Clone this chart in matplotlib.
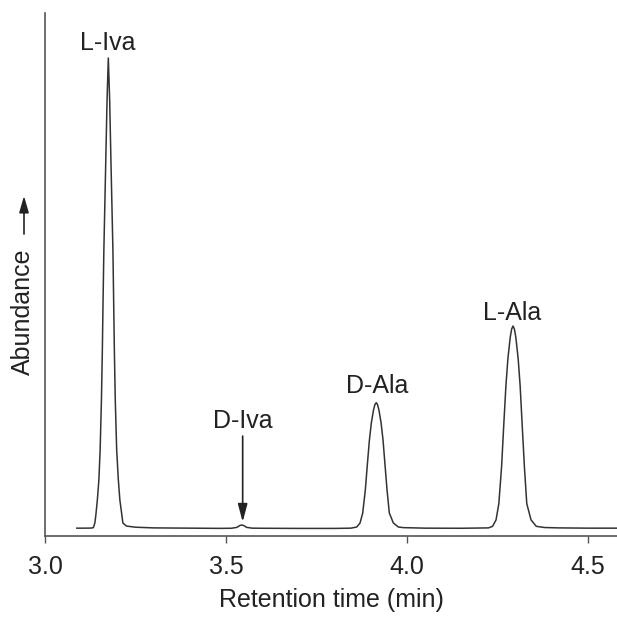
import matplotlib
matplotlib.use("Agg")
import matplotlib.pyplot as plt
import numpy as np

plt.rcParams['font.family'] = ['Liberation Sans', 'DejaVu Sans']

# ---- data (retention time in min, abundance in relative units) ----
seg_start_t = [3.088, 3.110, 3.128]
seg_start_a = [0.0150, 0.0150, 0.0152]

l_iva_t = [3.1336, 3.1377, 3.1405, 3.1446, 3.1488, 3.1523, 3.1559, 3.1584, 3.1604,
           3.1626, 3.1675, 3.1714, 3.1749, 3.1786, 3.1825, 3.1876, 3.1896, 3.1916,
           3.1941, 3.1980, 3.2026, 3.2068, 3.2123, 3.2151]
l_iva_a = [0.0160, 0.0249, 0.0402, 0.0688, 0.1071, 0.1644, 0.2600, 0.3556, 0.4512,
           0.5468, 0.7055, 0.8337, 0.9140, 0.8337, 0.7055, 0.5468, 0.4512, 0.3556,
           0.2600, 0.1644, 0.1071, 0.0688, 0.0402, 0.0249]

gap1_t = [3.225, 3.250, 3.300, 3.400, 3.480, 3.515]
gap1_a = [0.0190, 0.0168, 0.0155, 0.0150, 0.0146, 0.0148]

d_iva_t = [3.530, 3.538, 3.5433, 3.549, 3.557, 3.572]
d_iva_a = [0.0165, 0.0200, 0.0210, 0.0200, 0.0165, 0.0150]

gap2_t = [3.600, 3.700, 3.800, 3.845]
gap2_a = [0.0148, 0.0145, 0.0145, 0.0150]

d_ala_t = [3.8611, 3.8702, 3.8776, 3.8848, 3.8903, 3.8961, 3.9014, 3.9074, 3.9113,
           3.9149, 3.9185, 3.9224, 3.9284, 3.9337, 3.9392, 3.9448, 3.9511, 3.9622, 3.9760]
d_ala_a = [0.0172, 0.0249, 0.0440, 0.0880, 0.1358, 0.1836, 0.2161, 0.2409, 0.2513,
           0.2549, 0.2513, 0.2409, 0.2161, 0.1836, 0.1358, 0.0880, 0.0440, 0.0249, 0.0172]

gap3_t = [3.990, 4.050, 4.150, 4.225]
gap3_a = [0.0160, 0.0150, 0.0148, 0.0155]

l_ala_t = [4.2363, 4.2459, 4.2536, 4.2612, 4.2670, 4.2731, 4.2786, 4.2849, 4.2890,
           4.2928, 4.2966, 4.3007, 4.3070, 4.3125, 4.3183, 4.3242, 4.3308, 4.3425, 4.3570]
l_ala_a = [0.0185, 0.0308, 0.0618, 0.1325, 0.2098, 0.2867, 0.3389, 0.3791, 0.3957,
           0.4015, 0.3957, 0.3791, 0.3389, 0.2867, 0.2098, 0.1325, 0.0618, 0.0308, 0.0185]

tail_t = [4.380, 4.420, 4.500, 4.580]
tail_a = [0.0162, 0.0155, 0.0150, 0.0150]

peak_labels = ["L-Iva", "D-Iva", "D-Ala", "L-Ala"]
label_t = [3.1727, 3.547, 3.917, 4.290]
label_a = [0.9293, 0.2065, 0.2734, 0.4130]

arrow_t = 3.546
arrow_from_a = 0.191
arrow_to_a = 0.027

xticks = [3.0, 3.5, 4.0, 4.5]
xticklabels = ["3.0", "3.5", "4.0", "4.5"]

time = np.concatenate([seg_start_t, l_iva_t, gap1_t, d_iva_t, gap2_t, d_ala_t, gap3_t, l_ala_t, tail_t])
abund = np.concatenate([seg_start_a, l_iva_a, gap1_a, d_iva_a, gap2_a, d_ala_a, gap3_a, l_ala_a, tail_a])

# ---- figure ----
W, H = 617, 619
fig = plt.figure(figsize=(W / 100, H / 100), dpi=100)
ax = fig.add_axes([45 / W, 1 - 536 / H, 1 - 45 / W, (536 - 13) / H])

ax.plot(time, abund, color='#333333', lw=1.1, solid_joinstyle='round')

ax.set_xlim(3.0, 4.58)
ax.set_ylim(0, 1)
ax.spines['top'].set_visible(False)
ax.spines['right'].set_visible(False)
for s in ('left', 'bottom'):
    ax.spines[s].set_color('#555555')
    ax.spines[s].set_linewidth(1.2)
ax.set_yticks([])
ax.set_xticks(xticks)
ax.set_xticklabels(xticklabels)
ax.tick_params(axis='x', direction='out', length=5, width=1.0, color='#555555',
               labelsize=18, labelcolor='#222222', pad=9)
ax.set_xlabel("Retention time (min)", fontsize=18, color='#222222', labelpad=6)

for lab, t, a in zip(peak_labels, label_t, label_a):
    ax.text(t, a, lab, ha='center', va='baseline', fontsize=18, color='#222222')

ax.annotate('', xy=(arrow_t, arrow_to_a), xytext=(arrow_t, arrow_from_a),
            arrowprops=dict(arrowstyle='-|>,head_length=0.6,head_width=0.16',
                            mutation_scale=18, color='#222222', lw=1.2,
                            shrinkA=0, shrinkB=0))

# y label with arrow
fig.text(23 / W, 1 - 311.5 / H, "Abundance", rotation=90, ha='center', va='center',
         fontsize=18, color='#222222')
ax.annotate('', xy=(24 / W, 1 - 196 / H), xytext=(24 / W, 1 - 234 / H),
            xycoords='figure fraction', textcoords='figure fraction',
            arrowprops=dict(arrowstyle='-|>,head_length=0.55,head_width=0.16',
                            mutation_scale=18, color='#222222', lw=1.2,
                            shrinkA=0, shrinkB=0), annotation_clip=False)

fig.savefig("out.png", dpi=100)
